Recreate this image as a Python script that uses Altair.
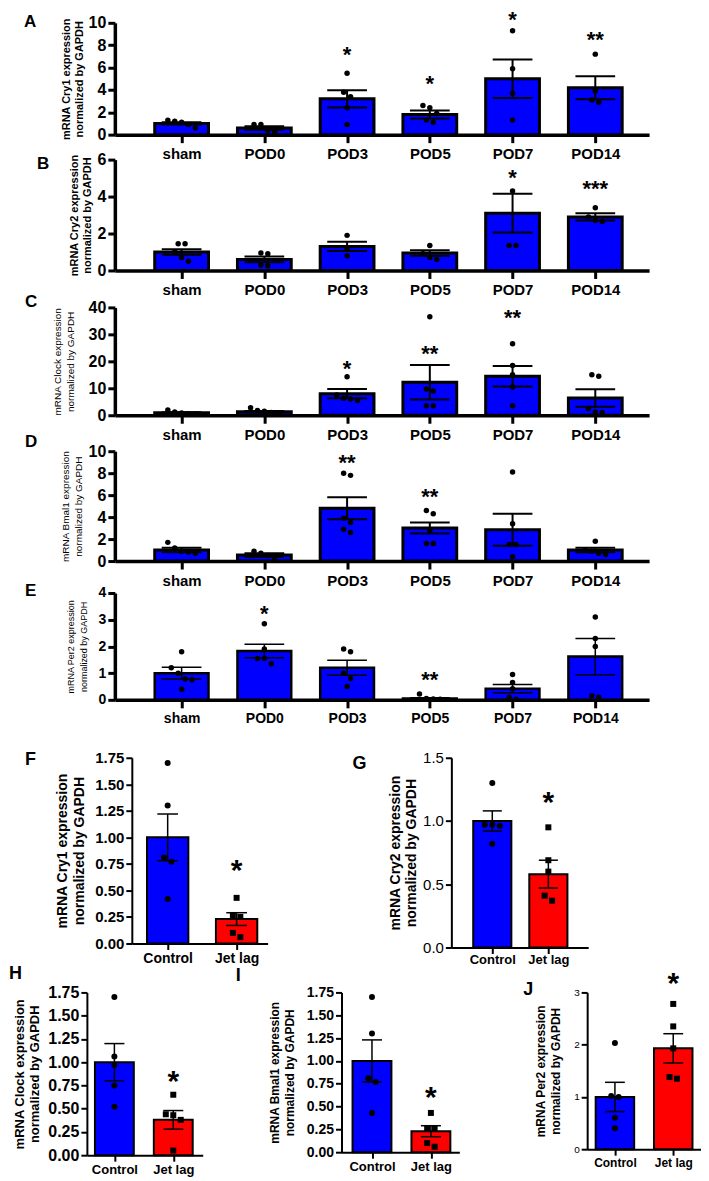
import json
import altair as alt
import pandas as pd

FONT = "Liberation Sans"
BLUE = "#0000ff"
RED = "#ff0000"

POD_CATS = ["sham", "POD0", "POD3", "POD5", "POD7", "POD14"]
JL_CATS = ["Control", "Jet lag"]

# ---- Panel A : Cry1 after surgery
A_mean = [1.0, 0.6, 3.2, 1.8, 5.0, 4.2]
A_sem = [0.1, 0.15, 0.78, 0.35, 1.72, 1.03]
A_pts = [[1.3, 1.2, 1.1, 0.9, 0.6], [0.9, 0.9, 0.4, 0.3], [5.5, 3.8, 3.4, 2.4, 0.9],
         [2.6, 2.4, 1.9, 1.3, 1.1], [9.3, 5.9, 3.7, 1.3], [7.2, 3.9, 3.1, 2.9]]
A_star = ["", "", "*", "*", "*", "**"]
A_star_y = [0, 0, 7.6, 5.0, 10.7, 8.9]

# ---- Panel B : Cry2
B_mean = [1.0, 0.6, 1.3, 0.95, 3.1, 2.9]
B_sem = [0.15, 0.15, 0.25, 0.15, 1.05, 0.2]
B_pts = [[1.45, 1.45, 1.0, 0.7, 0.5], [0.95, 0.9, 0.3, 0.25], [1.9, 1.2, 0.8],
         [1.35, 0.9, 0.7, 0.6], [4.3, 1.35, 1.35], [3.4, 2.9, 2.7, 2.65]]
B_star = ["", "", "", "", "*", "***"]
B_star_y = [0, 0, 0, 0, 5.3, 4.7]

# ---- Panel C : Clock
C_mean = [0.9, 1.3, 8.0, 12.2, 14.5, 6.4]
C_sem = [0.2, 0.3, 1.7, 6.4, 3.8, 3.2]
C_pts = [[2.0, 1.2, 0.8, 0.6, 0.5], [2.8, 1.8, 1.5, 1.0, 0.5], [14.3, 7.5, 6.3, 6.0, 5.5],
         [36.5, 9.7, 9.0, 3.5, 3.5], [26.5, 18.5, 15.0, 10.5, 3.5], [15.0, 14.5, 2.5, 1.2, 1.0]]
C_star = ["", "", "*", "**", "**", ""]
C_star_y = [0, 0, 19.0, 24.5, 37.8, 0]

# ---- Panel D : Bmal1
D_mean = [1.0, 0.55, 4.8, 3.0, 2.85, 1.0]
D_sem = [0.2, 0.15, 1.0, 0.5, 1.45, 0.2]
D_pts = [[1.7, 1.2, 0.9, 0.8, 0.7], [0.9, 0.7, 0.5, 0.3], [8.0, 7.8, 3.9, 3.5, 2.9, 2.6],
         [4.6, 4.3, 2.8, 1.6, 1.6], [8.1, 3.4, 1.5, 1.5, 0.4], [1.8, 1.0, 0.9, 0.7, 0.6]]
D_star = ["", "", "**", "**", "", ""]
D_star_y = [0, 0, 9.4, 6.3, 0, 0]

# ---- Panel E : Per2
E_mean = [1.0, 1.83, 1.2, 0.05, 0.42, 1.62]
E_sem = [0.22, 0.25, 0.28, 0.03, 0.15, 0.68]
E_pts = [[1.8, 1.2, 1.0, 0.78, 0.75, 0.4], [2.85, 1.9, 1.55, 1.55, 1.35], [1.9, 1.8, 1.0, 0.8, 0.5],
         [0.22, 0.05, 0.03, 0.02], [0.95, 0.65, 0.42, 0.1, 0.02], [3.1, 2.3, 2.0, 0.1, 0.15]]
E_star = ["", "*", "", "**", "", ""]
E_star_y = [0, 3.4, 0, 0.95, 0, 0]

# ---- Panels F-J : control vs jet lag
F_mean = [1.0, 0.23]
F_sem = [0.22, 0.06]
F_pts = [[1.7, 1.3, 0.81, 0.77, 0.42], [0.43, 0.26, 0.25, 0.1, 0.06]]
F_star = ["", "*"]
F_star_y = [0, 0.75]

G_mean = [1.0, 0.58]
G_sem = [0.08, 0.11]
G_pts = [[1.3, 0.97, 0.96, 0.97, 0.82], [0.95, 0.69, 0.6, 0.41, 0.37]]
G_star = ["", "*"]
G_star_y = [0, 1.2]

H_mean = [1.0, 0.38]
H_sem = [0.2, 0.1]
H_pts = [[1.7, 1.06, 0.97, 0.75, 0.52], [0.65, 0.44, 0.43, 0.38, 0.05]]
H_star = ["", "*"]
H_star_y = [0, 0.87]

I_mean = [1.0, 0.23]
I_sem = [0.23, 0.06]
I_pts = [[1.7, 1.3, 0.81, 0.77, 0.43], [0.43, 0.26, 0.26, 0.1, 0.06]]
I_star = ["", "*"]
I_star_y = [0, 0.68]

J_mean = [1.0, 1.93]
J_sem = [0.28, 0.28]
J_pts = [[2.03, 1.02, 1.0, 0.6, 0.4], [2.78, 2.35, 1.93, 1.38, 1.35]]
J_star = ["", "*"]
J_star_y = [0, 3.3]


def swarm(vals, ppu, diam):
    """Spread points that would overlap vertically into symmetric horizontal rows (px offsets)."""
    order = sorted(range(len(vals)), key=lambda k: -vals[k])
    offs = [0.0] * len(vals)
    groups, cur = [], [order[0]]
    for a, b in zip(order, order[1:]):
        if abs(vals[a] - vals[b]) * ppu < diam:
            cur.append(b)
        else:
            groups.append(cur)
            cur = [b]
    groups.append(cur)
    for g in groups:
        k = len(g)
        for j, idx in enumerate(g):
            offs[idx] = (j - (k - 1) / 2) * diam * 1.15
    return offs


def panel(cats, mean, sem, pts, star_t, star_y, S):
    n = len(cats)
    W, H = S["W"], S["H"]
    ymax = S["ydom"][1]
    ppu = H / ymax
    dom = S["xdom"]
    step_px = W / (dom[1] - dom[0])
    idx = list(range(n))
    bars = pd.DataFrame({
        "i": idx,
        "m": mean,
        "x0": [i - S["half"] for i in idx],
        "x1": [i + S["half"] for i in idx],
        "z": [0.0] * n,
        "lo": [m - s for m, s in zip(mean, sem)],
        "hi": [m + s for m, s in zip(mean, sem)],
        "c0": [i - S["cap"] for i in idx],
        "c1": [i + S["cap"] for i in idx],
        "fill": S["fills"],
    })
    rows = []
    for i, vals in enumerate(pts):
        offs = swarm(vals, ppu, S["diam"])
        for v, o in zip(vals, offs):
            rows.append({"px": i + o / step_px, "v": v, "shape": S["shapes"][i]})
    P = pd.DataFrame(rows)
    T = pd.DataFrame({"i": idx, "t": star_t, "y": star_y})
    T = T[T["t"] != ""]

    # the panel is declared 1px wide for the grid layout; its x scale spans W pixels
    xs = alt.Scale(domain=dom, nice=False, zero=False, range=[0, W])
    ys = alt.Scale(domain=S["ydom"], nice=False, zero=True)
    common = dict(grid=False, labelFlush=False, labelOverlap=False, domainColor="black",
                  tickColor="black", labelColor="black", labelFont=FONT, tickWidth=S["tw"],
                  domainWidth=S["dw"])
    xaxis = alt.Axis(values=idx, labelExpr=f"{json.dumps(cats)}[datum.value]", title=None,
                     labelFontSize=S["xlfs"], labelFontWeight="bold", labelPadding=S["xlp"],
                     tickSize=S["xts"], **common)
    yaxis = alt.Axis(values=S["yticks"], format=S["yfmt"], title=S["title"],
                     labelFontSize=S["ylfs"], labelFontWeight=S["ylfw"], labelPadding=2,
                     tickSize=S["yts"], titleFont=FONT, titleColor="black",
                     titleFontSize=S["tfs"], titleFontWeight=S["tfw"], titlePadding=S["tp"],
                     titleLineHeight=S["tlh"], **common)
    X = lambda f: alt.X(f, scale=xs, axis=xaxis)
    Y = lambda f: alt.Y(f, scale=ys, axis=yaxis)
    base = alt.Chart(bars)
    bar = base.mark_rect(stroke="black", strokeWidth=S["bsw"]).encode(
        x=X("x0:Q"), x2="x1:Q", y=Y("m:Q"), y2="z:Q", fill=alt.Fill("fill:N", scale=None))
    err = base.mark_rule(color="black", strokeWidth=S["esw"]).encode(x=X("i:Q"), y=Y("lo:Q"), y2="hi:Q")
    cap_hi = base.mark_rule(color="black", strokeWidth=S["esw"]).encode(x=X("c0:Q"), x2="c1:Q", y=Y("hi:Q"))
    cap_lo = base.mark_rule(color="black", strokeWidth=S["esw"]).encode(x=X("c0:Q"), x2="c1:Q", y=Y("lo:Q"))
    dots = alt.Chart(P).mark_point(filled=True, color="black", opacity=1, size=S["dsize"]).encode(
        x=X("px:Q"), y=Y("v:Q"), shape=alt.Shape("shape:N", scale=None))
    stars = alt.Chart(T).mark_text(fontSize=S["sfs"], fontWeight="bold", baseline="alphabetic",
                                   dy=S["sfs"] * 0.55, color="black", font=FONT).encode(
        x=X("i:Q"), y=Y("y:Q"), text="t:N")
    return alt.layer(bar, err, cap_hi, cap_lo, dots, stars).properties(
        width=1, height=H,
        title=alt.TitleParams(S["letter"], anchor="start", frame="group", orient="top", offset=0,
                              baseline="middle", dx=S["ldx"], dy=S["ldy"], fontSize=S["lfs"],
                              fontWeight="bold", font=FONT, color="black"))


def sp(w=1, h=1):
    return alt.Chart(pd.DataFrame({"a": [0]})).mark_point(opacity=0).encode(
        x=alt.X("a:Q", axis=None), y=alt.Y("a:Q", axis=None)).properties(width=w, height=h)


TOP = dict(W=535, xdom=[-0.807, 5.65], half=0.325, cap=0.24, fills=[BLUE] * 6, shapes=["circle"] * 6,
           bsw=3, esw=2, dsize=30, diam=6, xlfs=15, xlp=4, xts=8, tw=3, dw=3.5, ylfs=16, ylfw="bold",
           yts=7, tfs=11, tfw="bold", tp=4, tlh=13, sfs=22, lfs=17)

SA = dict(TOP, H=112, ydom=[0, 10], yticks=[0, 2, 4, 6, 8, 10], yfmt="d",
          title=["mRNA Cry1 expression", "normalized by GAPDH"], letter="A", ldx=-91, ldy=30)
SB = dict(TOP, H=111, ydom=[0, 6], yticks=[0, 2, 4, 6], yfmt="d",
          title=["mRNA Cry2 expression", "normalized by GAPDH"], letter="B", ldx=-78, ldy=29)
SC = dict(TOP, H=108, ydom=[0, 40], yticks=[0, 10, 20, 30, 40], yfmt="d", tfw="normal", tfs=10, tp=13,
          title=["mRNA Clock expression", "normalized by GAPDH"], letter="C", ldx=-90, ldy=20)
SD = dict(TOP, H=110, ydom=[0, 10], yticks=[0, 2, 4, 6, 8, 10], yfmt="d", tfw="normal", tfs=10, tp=5,
          title=["mRNA Bmal1 expression", "normalized by GAPDH"], letter="D", ldx=-90, ldy=16)
SE = dict(TOP, H=107, ydom=[0, 4], yticks=[0, 1, 2, 3, 4], yfmt="d", tfw="normal", tfs=9, tp=10,
          xlfs=14, ylfs=14, bsw=2.5, esw=1.5,
          title=["mRNA Per2 expression", "normalized by GAPDH"], letter="E", ldx=-90, ldy=22)

BOT = dict(fills=[BLUE, RED], shapes=["circle", "square"], bsw=2, esw=1.5, dsize=36, diam=6.5,
           xlfs=13, xlp=2, xts=6, tw=2, dw=2, ylfs=13, ylfw="bold", yts=6, tfs=13, tfw="bold",
           tlh=16, sfs=30, lfs=18)
SF = dict(BOT, W=136, H=186, xdom=[-0.52, 1.45], half=0.30, cap=0.15, ydom=[0, 1.75],
          yticks=[0, 0.25, 0.5, 0.75, 1.0, 1.25, 1.5, 1.75], yfmt=".2f", tp=8, xlfs=14, ylfs=15,
          tfs=14, tlh=17,
          title=["mRNA Cry1 expression", "normalized by GAPDH"], letter="F", ldx=-107, ldy=27)
SG = dict(BOT, W=137, H=190, xdom=[-0.73, 1.71], half=0.34, cap=0.17, ydom=[0, 1.5],
          yticks=[0, 0.5, 1.0, 1.5], yfmt=".1f", tp=4, xlp=0, ylfw="normal", ylfs=15, tfs=14, tlh=16,
          title=["mRNA Cry2 expression", "normalized by GAPDH"], letter="G", ldx=-99, ldy=31)
SH = dict(BOT, W=116, H=163, xdom=[-0.467, 1.5], half=0.33, cap=0.17, ydom=[0, 1.75],
          yticks=[0, 0.25, 0.5, 0.75, 1.0, 1.25, 1.5, 1.75], yfmt=".2f", tp=6, tfs=13, tlh=15, ylfs=16,
          title=["mRNA Clock expression", "normalized by GAPDH"], letter="H", ldx=-78, ldy=8)
SI = dict(BOT, W=118, H=160, xdom=[-0.517, 1.483], half=0.33, cap=0.17, ydom=[0, 1.75],
          yticks=[0, 0.25, 0.5, 0.75, 1.0, 1.25, 1.5, 1.75], yfmt=".2f", tp=10, tfs=12, tlh=15, ylfs=14,
          title=["mRNA Bmal1 expression", "normalized by GAPDH"], letter="I", ldx=-106, ldy=9)
SJ = dict(BOT, W=114, H=157, xdom=[-0.476, 1.476], half=0.33, cap=0.17, ydom=[0, 3],
          yticks=[0, 1, 2, 3], yfmt="d", tp=11, tfs=12, tlh=15, ylfs=10, ylfw="normal", xlfs=12,
          title=["mRNA Per2 expression", "normalized by GAPDH"], letter="J", ldx=-64, ldy=39)

pA = panel(POD_CATS, A_mean, A_sem, A_pts, A_star, A_star_y, SA)
pB = panel(POD_CATS, B_mean, B_sem, B_pts, B_star, B_star_y, SB)
pC = panel(POD_CATS, C_mean, C_sem, C_pts, C_star, C_star_y, SC)
pD = panel(POD_CATS, D_mean, D_sem, D_pts, D_star, D_star_y, SD)
pE = panel(POD_CATS, E_mean, E_sem, E_pts, E_star, E_star_y, SE)
pF = panel(JL_CATS, F_mean, F_sem, F_pts, F_star, F_star_y, SF)
pG = panel(JL_CATS, G_mean, G_sem, G_pts, G_star, G_star_y, SG)
pH = panel(JL_CATS, H_mean, H_sem, H_pts, H_star, H_star_y, SH)
pI = panel(JL_CATS, I_mean, I_sem, I_pts, I_star, I_star_y, SI)
pJ = panel(JL_CATS, J_mean, J_sem, J_pts, J_star, J_star_y, SJ)

# grid columns (left edges of plot areas): 0, 76 (H), 104 (A-E), 121 (F), 331 (I), 441 (G), 577 (J)
COL_W = [76, 28, 17, 210, 110, 136, 1]
NCOL = len(COL_W)


def row(placed, h=1):
    """placed: dict column -> panel."""
    return [placed.get(c, sp(h=h)) for c in range(NCOL)]


def gap(h, widths=None):
    if widths:
        return [sp(w=w, h=h) for w in widths]
    return [sp(h=h) for _ in range(NCOL)]


cells = (row({2: pA}) + gap(25, COL_W) + row({2: pB}) + gap(37) + row({2: pC}) + gap(36)
         + row({2: pD}) + gap(32) + row({2: pE}) + gap(58)
         + row({3: pF, 5: pG}) + gap(45)
         + row({1: pH, 4: pI, 6: pJ}))

chart = alt.concat(*cells, columns=NCOL, spacing=0, bounds="flush", align="each").properties(
    padding=0).configure(background="white", view=alt.ViewConfig(stroke=None))

chart.save("out.html", embed_options={"renderer": "svg", "actions": False})
